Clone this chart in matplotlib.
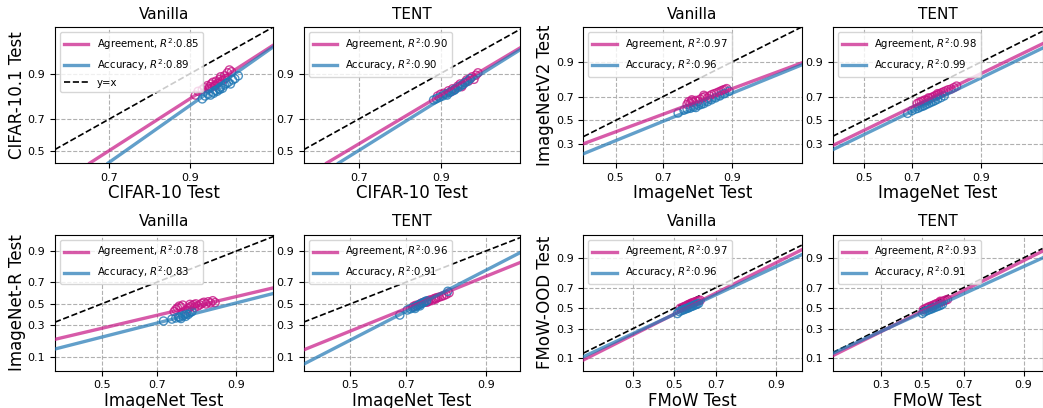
from statistics import NormalDist

import matplotlib
matplotlib.use("Agg")
import matplotlib.pyplot as plt
import numpy as np

# ---- data ----
titles = ["Vanilla", "TENT"]

# CIFAR-10 -> CIFAR-10.1
c10_van_agree_x = [0.908, 0.912, 0.918, 0.921, 0.925, 0.927, 0.930, 0.932, 0.934, 0.936, 0.938,
                   0.940, 0.941, 0.943, 0.945, 0.946, 0.948, 0.950, 0.952, 0.935, 0.928]
c10_van_agree_y = [0.822, 0.838, 0.845, 0.852, 0.860, 0.848, 0.866, 0.872, 0.858, 0.876, 0.870,
                   0.882, 0.890, 0.878, 0.893, 0.885, 0.902, 0.910, 0.905, 0.862, 0.856]
c10_van_acc_x = [0.918, 0.922, 0.926, 0.929, 0.932, 0.935, 0.937, 0.939, 0.941, 0.943,
                 0.945, 0.947, 0.949, 0.951, 0.953, 0.955, 0.958, 0.940, 0.933]
c10_van_acc_y = [0.805, 0.818, 0.826, 0.822, 0.835, 0.842, 0.838, 0.848, 0.855, 0.850,
                 0.862, 0.868, 0.872, 0.866, 0.880, 0.884, 0.893, 0.845, 0.830]
c10_tent_agree_x = [0.895, 0.900, 0.905, 0.912, 0.918, 0.921, 0.925, 0.928, 0.931, 0.934,
                    0.936, 0.938, 0.940, 0.942, 0.944, 0.946, 0.948, 0.915, 0.930]
c10_tent_agree_y = [0.818, 0.826, 0.830, 0.840, 0.848, 0.845, 0.858, 0.866, 0.862, 0.872,
                    0.880, 0.876, 0.885, 0.890, 0.882, 0.895, 0.902, 0.835, 0.856]
c10_tent_acc_x = [0.888, 0.893, 0.898, 0.903, 0.908, 0.913, 0.917, 0.921, 0.925, 0.928,
                  0.931, 0.934, 0.937, 0.940, 0.910, 0.920]
c10_tent_acc_y = [0.800, 0.806, 0.812, 0.818, 0.826, 0.832, 0.838, 0.846, 0.852, 0.858,
                  0.864, 0.870, 0.876, 0.884, 0.822, 0.842]

# ImageNet -> ImageNetV2
in_van_agree_x = [0.785, 0.790, 0.795, 0.800, 0.805, 0.812, 0.818, 0.825, 0.832, 0.838, 0.845,
                  0.850, 0.856, 0.862, 0.868, 0.873, 0.878, 0.882, 0.886, 0.890, 0.800, 0.835]
in_van_agree_y = [0.638, 0.660, 0.648, 0.665, 0.655, 0.670, 0.662, 0.680, 0.692, 0.700, 0.688,
                  0.705, 0.715, 0.722, 0.728, 0.735, 0.742, 0.748, 0.752, 0.758, 0.675, 0.710]
in_van_acc_x = [0.755, 0.775, 0.785, 0.795, 0.805, 0.812, 0.820, 0.828, 0.835, 0.845,
                0.855, 0.865, 0.875, 0.885, 0.895]
in_van_acc_y = [0.565, 0.590, 0.600, 0.605, 0.615, 0.612, 0.630, 0.638, 0.645, 0.660,
                0.675, 0.690, 0.705, 0.722, 0.740]
in_tent_agree_x = [0.720, 0.728, 0.735, 0.742, 0.748, 0.755, 0.762, 0.770, 0.776, 0.783, 0.790,
                   0.796, 0.802, 0.808, 0.815, 0.822, 0.830, 0.838, 0.845, 0.760, 0.790]
in_tent_agree_y = [0.645, 0.655, 0.662, 0.668, 0.675, 0.672, 0.685, 0.692, 0.700, 0.708, 0.712,
                   0.720, 0.728, 0.735, 0.742, 0.750, 0.755, 0.765, 0.775, 0.690, 0.722]
in_tent_acc_x = [0.683, 0.700, 0.712, 0.722, 0.730, 0.738, 0.745, 0.752, 0.760, 0.768,
                 0.775, 0.782, 0.790, 0.800, 0.810]
in_tent_acc_y = [0.562, 0.585, 0.598, 0.605, 0.615, 0.622, 0.628, 0.638, 0.645, 0.655,
                 0.662, 0.670, 0.680, 0.692, 0.705]

# ImageNet -> ImageNet-R
inr_van_agree_x = [0.755, 0.760, 0.765, 0.770, 0.775, 0.780, 0.790, 0.795, 0.800, 0.805, 0.810, 0.815,
                   0.820, 0.825, 0.830, 0.835, 0.840, 0.845, 0.850, 0.855, 0.860, 0.800, 0.812]
inr_van_agree_y = [0.425, 0.445, 0.460, 0.478, 0.470, 0.488, 0.440, 0.455, 0.470, 0.482, 0.492, 0.500,
                   0.478, 0.490, 0.505, 0.515, 0.498, 0.520, 0.508, 0.530, 0.512, 0.495, 0.465]
inr_van_acc_x = [0.722, 0.748, 0.760, 0.768, 0.775, 0.780, 0.785, 0.790, 0.795, 0.800, 0.805, 0.772, 0.788]
inr_van_acc_y = [0.338, 0.355, 0.365, 0.375, 0.360, 0.385, 0.395, 0.405, 0.398, 0.415, 0.425, 0.372, 0.380]
inr_tent_agree_x = [0.725, 0.732, 0.740, 0.748, 0.755, 0.760, 0.765, 0.770, 0.775, 0.780,
                    0.785, 0.790, 0.795, 0.800, 0.806, 0.812, 0.818, 0.825, 0.770, 0.790]
inr_tent_agree_y = [0.475, 0.485, 0.490, 0.505, 0.512, 0.520, 0.515, 0.530, 0.538, 0.532,
                    0.548, 0.555, 0.560, 0.565, 0.572, 0.580, 0.590, 0.605, 0.522, 0.545]
inr_tent_acc_x = [0.680, 0.705, 0.715, 0.722, 0.730, 0.735, 0.740, 0.745, 0.750, 0.755,
                  0.760, 0.765, 0.730, 0.745, 0.822]
inr_tent_acc_y = [0.392, 0.440, 0.452, 0.462, 0.470, 0.478, 0.488, 0.495, 0.505, 0.512,
                  0.520, 0.530, 0.455, 0.480, 0.620]

# FMoW -> FMoW-OOD
fmow_van_agree_x = [0.530, 0.540, 0.548, 0.555, 0.562, 0.568, 0.575, 0.582, 0.590, 0.598,
                    0.605, 0.612, 0.620, 0.628, 0.560, 0.595]
fmow_van_agree_y = [0.500, 0.505, 0.515, 0.520, 0.525, 0.535, 0.540, 0.548, 0.555, 0.560,
                    0.565, 0.570, 0.575, 0.580, 0.510, 0.545]
fmow_van_acc_x = [0.515, 0.525, 0.535, 0.545, 0.552, 0.560, 0.568, 0.575, 0.582, 0.590,
                  0.598, 0.605, 0.612, 0.620]
fmow_van_acc_y = [0.445, 0.465, 0.475, 0.482, 0.490, 0.495, 0.500, 0.508, 0.515, 0.520,
                  0.528, 0.535, 0.540, 0.548]
fmow_tent_agree_x = [0.505, 0.515, 0.525, 0.535, 0.545, 0.555, 0.565, 0.575, 0.585, 0.595,
                     0.605, 0.615, 0.625, 0.550, 0.590]
fmow_tent_agree_y = [0.485, 0.495, 0.505, 0.515, 0.522, 0.530, 0.540, 0.548, 0.555, 0.565,
                     0.572, 0.580, 0.588, 0.510, 0.570]
fmow_tent_acc_x = [0.500, 0.510, 0.520, 0.530, 0.540, 0.550, 0.560, 0.570, 0.580, 0.590, 0.600]
fmow_tent_acc_y = [0.445, 0.462, 0.472, 0.480, 0.488, 0.495, 0.505, 0.512, 0.520, 0.528, 0.538]

# fitted lines (two points each, straight in probit space)
fit_agree = [
    [(0.635, 0.419), (0.978, 0.956)], [(0.591, 0.419), (0.978, 0.956)],
    [(0.361, 0.304), (0.980, 0.897)], [(0.364, 0.291), (0.975, 0.954)],
    [(0.328, 0.194), (0.949, 0.651)], [(0.328, 0.131), (0.946, 0.842)],
    [(0.125, 0.0925), (0.946, 0.932)], [(0.128, 0.112), (0.936, 0.927)],
]
fit_acc = [
    [(0.697, 0.419), (0.978, 0.953)], [(0.633, 0.419), (0.978, 0.953)],
    [(0.361, 0.232), (0.980, 0.889)], [(0.364, 0.260), (0.975, 0.944)],
    [(0.328, 0.136), (0.949, 0.599)], [(0.328, 0.071), (0.946, 0.893)],
    [(0.125, 0.107), (0.946, 0.914)], [(0.128, 0.124), (0.936, 0.900)],
]
r2_agree = [0.85, 0.90, 0.97, 0.98, 0.78, 0.96, 0.97, 0.93]
r2_acc = [0.89, 0.90, 0.96, 0.99, 0.83, 0.91, 0.96, 0.91]

points = [
    (c10_van_agree_x, c10_van_agree_y, c10_van_acc_x, c10_van_acc_y),
    (c10_tent_agree_x, c10_tent_agree_y, c10_tent_acc_x, c10_tent_acc_y),
    (in_van_agree_x, in_van_agree_y, in_van_acc_x, in_van_acc_y),
    (in_tent_agree_x, in_tent_agree_y, in_tent_acc_x, in_tent_acc_y),
    (inr_van_agree_x, inr_van_agree_y, inr_van_acc_x, inr_van_acc_y),
    (inr_tent_agree_x, inr_tent_agree_y, inr_tent_acc_x, inr_tent_acc_y),
    (fmow_van_agree_x, fmow_van_agree_y, fmow_van_acc_x, fmow_van_acc_y),
    (fmow_tent_agree_x, fmow_tent_agree_y, fmow_tent_acc_x, fmow_tent_acc_y),
]

xlabels = ["CIFAR-10 Test", "CIFAR-10 Test", "ImageNet Test", "ImageNet Test",
           "ImageNet Test", "ImageNet Test", "FMoW Test", "FMoW Test"]
ylabels = ["CIFAR-10.1 Test", None, "ImageNetV2 Test", None,
           "ImageNet-R Test", None, "FMoW-OOD Test", None]
xlims = [(0.508, 0.98), (0.506, 0.978), (0.361, 0.98), (0.364, 0.975),
         (0.328, 0.949), (0.328, 0.946), (0.125, 0.946), (0.128, 0.936)]
ylims = [(0.419, 0.98), (0.419, 0.98), (0.175, 0.98), (0.175, 0.98),
         (0.052, 0.954), (0.052, 0.954), (0.055, 0.97), (0.055, 0.97)]
xticks = [[0.7, 0.9], [0.7, 0.9], [0.5, 0.7, 0.9], [0.5, 0.7, 0.9],
          [0.5, 0.7, 0.9], [0.5, 0.7, 0.9], [0.3, 0.5, 0.7, 0.9], [0.3, 0.5, 0.7, 0.9]]
yticks = [[0.5, 0.7, 0.9], [0.5, 0.7, 0.9], [0.3, 0.5, 0.7, 0.9], [0.3, 0.5, 0.7, 0.9],
          [0.1, 0.3, 0.5, 0.7, 0.9], [0.1, 0.3, 0.5, 0.7, 0.9],
          [0.1, 0.3, 0.5, 0.7, 0.9], [0.1, 0.3, 0.5, 0.7, 0.9]]

# ---- probit scale ----
_nd = NormalDist()
_ppf = np.vectorize(_nd.inv_cdf, otypes=[float])
_cdf = np.vectorize(_nd.cdf, otypes=[float])


def probit(p):
    p = np.asarray(p, dtype=float)
    p = np.where(np.isfinite(p), np.clip(p, 1e-9, 1 - 1e-9), 0.5)
    return _ppf(p)


def inv_probit(z):
    z = np.asarray(z, dtype=float)
    z = np.where(np.isfinite(z), z, 0.0)
    return _cdf(z)


PINK = "mediumvioletred"
BLUE = "tab:blue"

W, H = 1043, 408
fig = plt.figure(figsize=(W / 100, H / 100), dpi=100)

col_left = [55, 303.5, 583.3, 832.7]
col_width = [218.3, 216.5, 218.4, 209.8]
row_top = [27, 234.5]
row_h = [136, 136.2]

for idx in range(8):
    r, c = divmod(idx, 4)
    left = col_left[c] / W
    bottom = (H - row_top[r] - row_h[r]) / H
    ax = fig.add_axes([left, bottom, col_width[c] / W, row_h[r] / H])
    ax.set_xscale("function", functions=(probit, inv_probit))
    ax.set_yscale("function", functions=(probit, inv_probit))

    ax_, ay_, cx_, cy_ = points[idx]
    ax.scatter(ax_, ay_, s=34, facecolors="none", edgecolors=PINK, linewidths=1.0, alpha=0.8, zorder=3)
    ax.scatter(cx_, cy_, s=34, facecolors="none", edgecolors=BLUE, linewidths=1.0, alpha=0.8, zorder=3)

    ax.axline(fit_agree[idx][0], fit_agree[idx][1], color=PINK, alpha=0.7, lw=2.4,
              label=f"Agreement, $R^2$:{r2_agree[idx]:.2f}", zorder=4)
    ax.axline(fit_acc[idx][0], fit_acc[idx][1], color=BLUE, alpha=0.7, lw=2.4,
              label=f"Accuracy, $R^2$:{r2_acc[idx]:.2f}", zorder=4)
    ax.axline((0.5, 0.5), (0.9, 0.9), color="black", ls="--", lw=1.2,
              label="y=x" if idx == 0 else None, zorder=2)

    ax.set_xlim(*xlims[idx])
    ax.set_ylim(*ylims[idx])
    ax.set_xticks(xticks[idx])
    ax.set_yticks(yticks[idx])
    ax.set_xticklabels([f"{t:.1f}" for t in xticks[idx]])
    ax.set_yticklabels([f"{t:.1f}" for t in yticks[idx]])
    ax.minorticks_off()
    ax.tick_params(labelsize=8)
    ax.grid(True, ls="--", color="#b0b0b0", lw=0.8)

    ax.set_title(titles[c % 2], fontsize=11)
    ax.set_xlabel(xlabels[idx], fontsize=12, labelpad=1)
    if ylabels[idx]:
        ax.set_ylabel(ylabels[idx], fontsize=12, labelpad=1)
    ax.legend(loc="upper left", fontsize=7.3, handlelength=2.4)

fig.savefig("out.png", dpi=100)
